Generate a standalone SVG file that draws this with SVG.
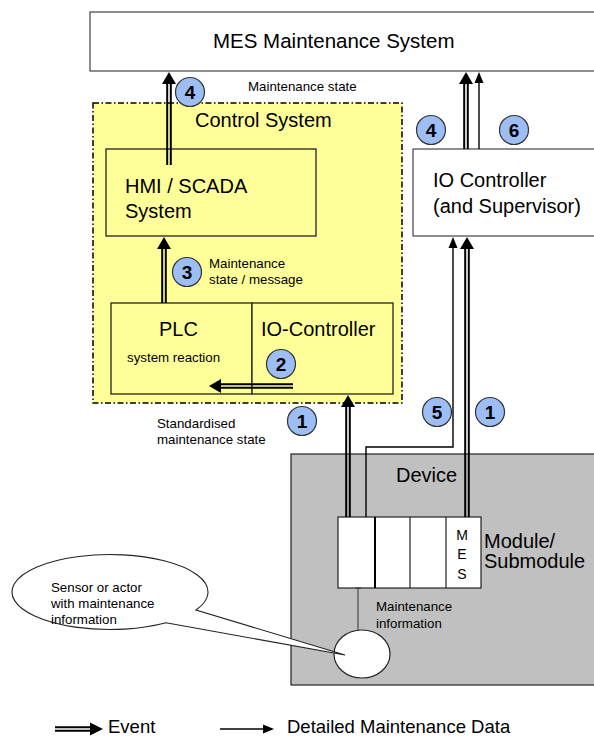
<svg xmlns="http://www.w3.org/2000/svg" width="594" height="738" viewBox="0 0 594 738">
  <style>
    text { font-family: "Liberation Sans", Arial, sans-serif; fill: #000; }
    .big { font-size: 20px; }
    .mes { font-size: 20.5px; }
    .small { font-size: 13.3px; }
    .num { font-size: 19px; font-weight: bold; text-anchor: middle; }
    .legend { font-size: 18.5px; }
    .box { fill: #fff; stroke: #444; stroke-width: 1.2; }
    .ybox { fill: #FFFF99; stroke: #222; stroke-width: 1.3; }
    .badge { fill: #9DBDF5; stroke: #333; stroke-width: 1.2; }
    .ev { fill: none; stroke: #000; stroke-width: 2; }
    .thin { fill: none; stroke: #000; stroke-width: 1.4; }
    .head { fill: #000; }
  </style>

  <rect width="594" height="738" fill="#fff"/>

  <!-- MES Maintenance System -->
  <g id="mes">
    <rect class="box" x="90" y="12" width="520" height="59"/>
    <text class="mes" x="213" y="48">MES Maintenance System</text>
  </g>

  <!-- Control System container -->
  <g id="control-system">
    <rect x="93" y="103" width="309" height="300" fill="#FFFF99" stroke="#000" stroke-width="1.5" stroke-dasharray="6 2.5 1.5 2.5"/>
    <text class="big" x="195" y="127">Control System</text>
  </g>

  <g id="hmi">
    <rect class="ybox" x="106" y="149" width="210" height="87"/>
    <text class="big" x="125" y="193">HMI / SCADA</text>
    <text class="big" x="125" y="218">System</text>
  </g>

  <g id="plc">
    <rect class="ybox" x="111" y="303" width="141" height="91"/>
    <text class="big" x="159" y="336">PLC</text>
    <text class="small" x="127" y="362">system reaction</text>
  </g>

  <g id="io-controller-cs">
    <rect class="ybox" x="252" y="303" width="141" height="91"/>
    <text class="big" x="261" y="336">IO-Controller</text>
  </g>

  <!-- IO Controller (and Supervisor) -->
  <g id="io-controller">
    <rect class="box" x="413" y="149" width="200" height="87"/>
    <text class="big" x="433" y="187">IO Controller</text>
    <text class="big" x="433" y="213">(and Supervisor)</text>
  </g>

  <!-- Device with module -->
  <g id="device">
    <rect x="291" y="454" width="320" height="231" fill="#C0C0C0" stroke="#222" stroke-width="1.2"/>
    <text class="big" x="396" y="482">Device</text>
  </g>

  <g id="module">
    <rect x="338" y="517" width="143" height="71" fill="#fff" stroke="#222" stroke-width="1.2"/>
    <line x1="375" y1="517" x2="375" y2="588" stroke="#000" stroke-width="2"/>
    <line x1="410" y1="517" x2="410" y2="588" stroke="#222" stroke-width="1.2"/>
    <line x1="446" y1="517" x2="446" y2="588" stroke="#222" stroke-width="1.2"/>
    <g text-anchor="middle" style="font-size:14px">
      <text x="462" y="540">M</text>
      <text x="462" y="559">E</text>
      <text x="462" y="579">S</text>
    </g>
    <text class="big" x="484" y="548">Module/</text>
    <text class="big" x="484" y="568">Submodule</text>
  </g>

  <g id="sensor">
    <line x1="358" y1="588" x2="358" y2="630" stroke="#333" stroke-width="1"/>
    <line x1="355" y1="588" x2="361" y2="588" stroke="#333" stroke-width="1"/>
    <ellipse cx="362" cy="654" rx="28" ry="24" fill="#fff" stroke="#222" stroke-width="1.2"/>
    <text class="small" x="376" y="611">Maintenance</text>
    <text class="small" x="376" y="628">information</text>
  </g>

  <!-- Callout bubble -->
  <g id="callout">
    <path d="M 196 610 A 98 37.5 0 1 0 166 622.8 L 345 655 Z" fill="#fff" stroke="#222" stroke-width="1.1"/>
    <text class="small" x="51" y="592">Sensor or actor</text>
    <text class="small" x="51" y="608">with maintenance</text>
    <text class="small" x="51" y="624">information</text>
  </g>

  <!-- Connectors -->
  <g id="connectors">
    <!-- Event arrows (double line) -->
    <path class="ev" d="M 167.2 165 V 82 M 170.8 165 V 82"/>
    <polygon class="head" points="169,72 162,84 176,84"/>

    <path class="ev" d="M 162.2 303 V 247 M 165.8 303 V 247"/>
    <polygon class="head" points="164,237 157,249 171,249"/>

    <path class="ev" d="M 293 384.2 H 219 M 293 387.8 H 219"/>
    <polygon class="head" points="209,386 221,379 221,393"/>

    <path class="ev" d="M 346.2 517 V 405 M 349.8 517 V 405"/>
    <polygon class="head" points="348,395 341,407 355,407"/>

    <path class="ev" d="M 464.2 149 V 82 M 467.8 149 V 82"/>
    <polygon class="head" points="466,72 459,84 473,84"/>

    <path class="ev" d="M 465.2 517 V 247 M 468.8 517 V 247"/>
    <polygon class="head" points="467,237 460,249 474,249"/>

    <!-- Detailed data arrows (thin) -->
    <path class="thin" d="M 479 149 V 82"/>
    <polygon class="head" points="479,72 474.5,83 483.5,83"/>

    <path class="thin" d="M 366 517 V 447 H 453 V 247"/>
    <polygon class="head" points="453,237 448.5,248 457.5,248"/>
  </g>

  <!-- Step badges -->
  <g id="badges">
    <circle class="badge" cx="190" cy="92" r="14.5"/>
    <text class="num" x="190" y="99">4</text>
    <circle class="badge" cx="187" cy="272" r="14.5"/>
    <text class="num" x="187" y="279">3</text>
    <circle class="badge" cx="281" cy="364" r="14.5"/>
    <text class="num" x="281" y="371">2</text>
    <circle class="badge" cx="302" cy="421" r="14.5"/>
    <text class="num" x="302" y="428">1</text>
    <circle class="badge" cx="431" cy="130" r="14.5"/>
    <text class="num" x="431" y="137">4</text>
    <circle class="badge" cx="514" cy="130" r="14.5"/>
    <text class="num" x="514" y="137">6</text>
    <circle class="badge" cx="437" cy="412" r="14.5"/>
    <text class="num" x="437" y="419">5</text>
    <circle class="badge" cx="490" cy="412" r="14.5"/>
    <text class="num" x="490" y="419">1</text>
  </g>

  <!-- Free labels -->
  <g id="labels">
    <text class="small" x="248" y="91">Maintenance state</text>
    <text class="small" x="209" y="268">Maintenance</text>
    <text class="small" x="209" y="284">state / message</text>
    <text class="small" x="157" y="428">Standardised</text>
    <text class="small" x="157" y="444">maintenance state</text>
  </g>

  <!-- Legend -->
  <g id="legend">
    <path class="ev" d="M 55 727.2 H 92 M 55 730.8 H 92"/>
    <polygon class="head" points="103,729 90,722.5 90,735.5"/>
    <text class="legend" x="108" y="733">Event</text>
    <path class="thin" d="M 220 729 H 264"/>
    <polygon class="head" points="274,729 263,724.5 263,733.5"/>
    <text class="legend" x="287" y="733">Detailed Maintenance Data</text>
  </g>
</svg>
